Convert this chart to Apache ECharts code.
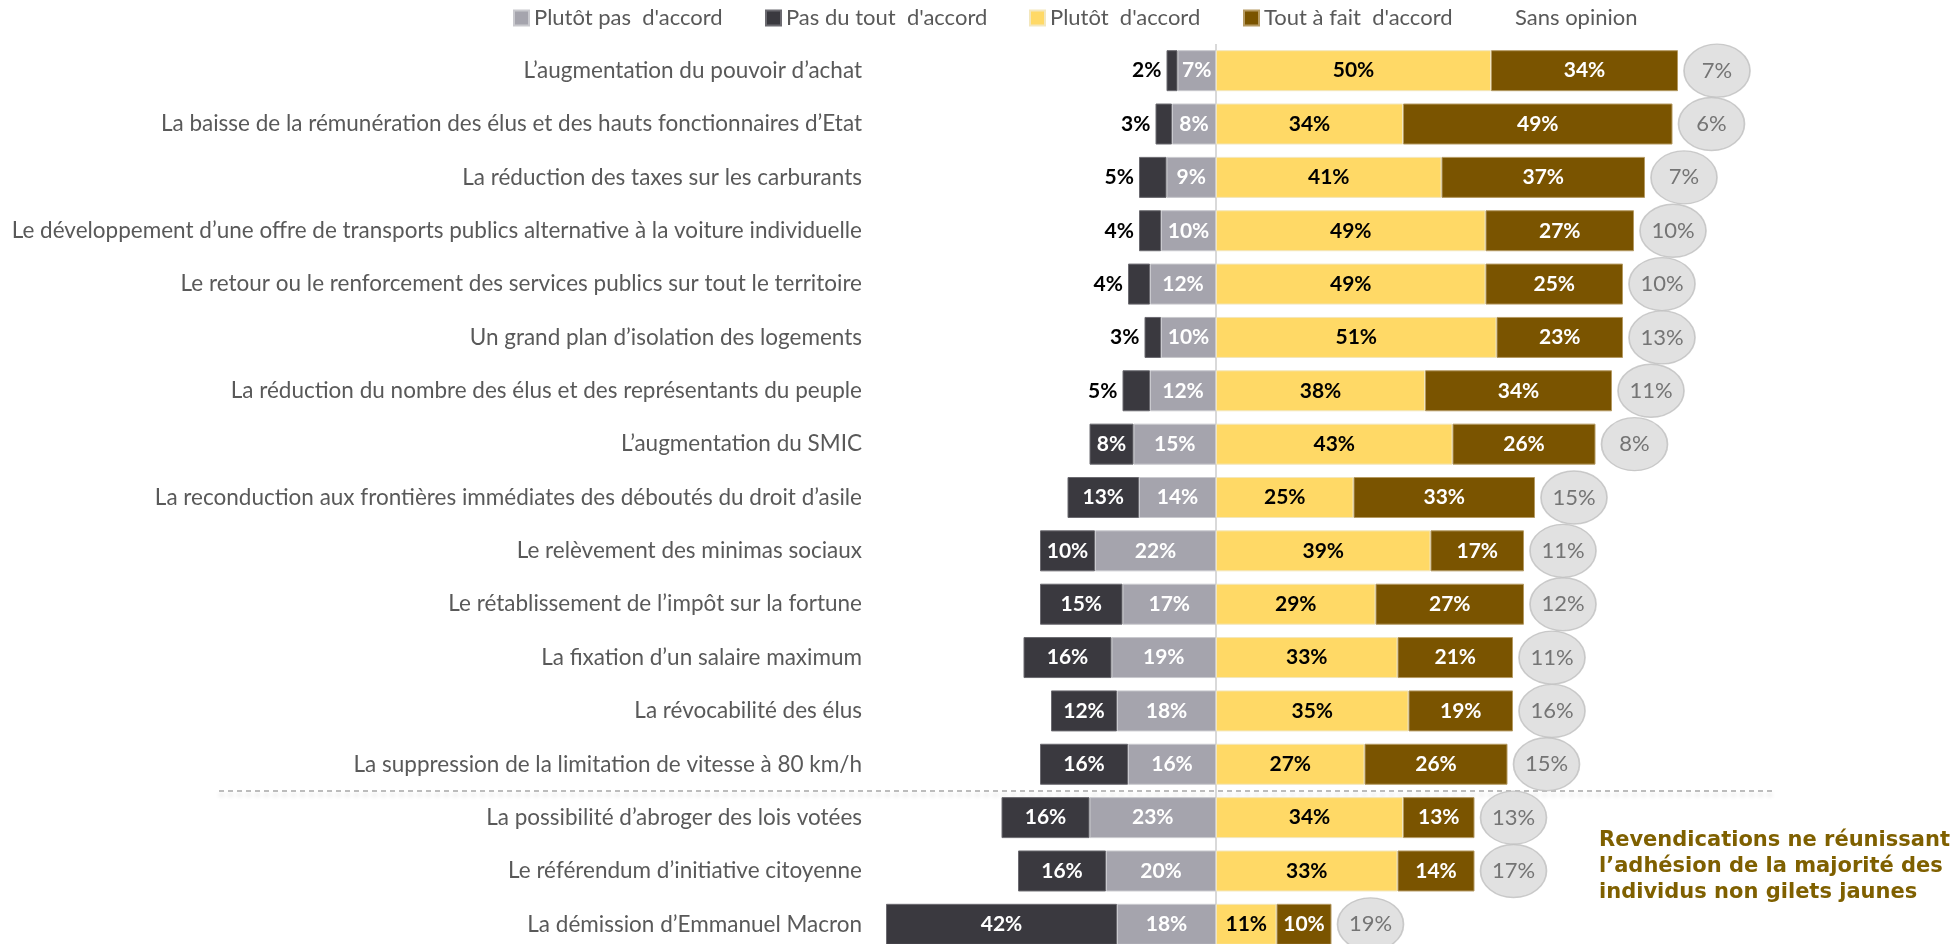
<!DOCTYPE html>
<html>
<head>
<meta charset="utf-8">
<script src="https://cdn.jsdelivr.net/npm/echarts@6/dist/echarts.min.js"></script>
<style>
  html, body { margin: 0; padding: 0; background: #fff; }
  #chart { width: 1960px; height: 944px; }
</style>
</head>
<body>
<div id="chart"></div>
<script>
// données (en %)
var categories = [
  'L’augmentation du pouvoir d’achat',
  'La baisse de la rémunération des élus et des hauts fonctionnaires d’Etat',
  'La réduction des taxes sur les carburants',
  'Le développement d’une offre de transports publics alternative à la voiture individuelle',
  'Le retour ou le renforcement des services publics sur tout le territoire',
  'Un grand plan d’isolation des logements',
  'La réduction du nombre des élus et des représentants du peuple',
  'L’augmentation du SMIC',
  'La reconduction aux frontières immédiates des déboutés du droit d’asile',
  'Le relèvement des minimas sociaux',
  'Le rétablissement de l’impôt sur la fortune',
  'La fixation d’un salaire maximum',
  'La révocabilité des élus',
  'La suppression de la limitation de vitesse à 80 km/h',
  'La possibilité d’abroger des lois votées',
  'Le référendum d’initiative citoyenne',
  'La démission d’Emmanuel Macron'
];
var pasDuTout     = [2, 3, 5, 4, 4, 3, 5, 8, 13, 10, 15, 16, 12, 16, 16, 16, 42];
var plutotPas     = [7, 8, 9, 10, 12, 10, 12, 15, 14, 22, 17, 19, 18, 16, 23, 20, 18];
var plutotDaccord = [50, 34, 41, 49, 49, 51, 38, 43, 25, 39, 29, 33, 35, 27, 34, 33, 11];
var toutAFait     = [34, 49, 37, 27, 25, 23, 34, 26, 33, 17, 27, 21, 19, 26, 13, 14, 10];
var sansOpinion   = [7, 6, 7, 10, 10, 13, 11, 8, 15, 11, 12, 11, 16, 15, 13, 17, 19];

var noms = ['Plutôt pas  d\'accord', 'Pas du tout  d\'accord', 'Plutôt  d\'accord', 'Tout à fait  d\'accord', 'Sans opinion'];
var police = 'Lato';

var chart = echarts.init(document.getElementById('chart'));

function etiquette(couleur) {
  return {
    show: true,
    position: 'inside',
    color: couleur,
    fontWeight: 'bold',
    fontSize: 21,
    fontFamily: police,
    formatter: function (p) { return Math.abs(p.value) + '%'; }
  };
}

function legende(nom, x) {
  return {
    data: [nom],
    left: x,
    top: 7,
    padding: 0,
    icon: 'rect',
    itemWidth: 15,
    itemHeight: 15,
    selectedMode: false,
    textStyle: { fontSize: 22, color: '#595959', fontFamily: police }
  };
}

var legSans = legende({ name: noms[4], itemStyle: { color: 'rgba(0,0,0,0)', borderWidth: 0 } }, 1495);

var option = {
  animation: false,
  legend: [
    legende(noms[0], 513),
    legende(noms[1], 765),
    legende(noms[2], 1029),
    legende(noms[3], 1243),
    legSans
  ],
  grid: { left: 886, width: 825, top: 44, height: 907, containLabel: false, outerBoundsMode: 'none' },
  xAxis: { type: 'value', min: -60, max: 90, show: false },
  yAxis: {
    type: 'category',
    inverse: true,
    data: categories,
    axisLine: { show: false },
    axisTick: { show: false },
    axisLabel: { margin: 24, fontSize: 22.5, color: '#595959', fontFamily: police }
  },
  series: [
    {
      name: noms[0],
      type: 'bar',
      stack: 'total',
      barWidth: 41,
      data: plutotPas.map(function (v) { return -v; }),
      itemStyle: { color: '#a5a4ad', borderColor: '#c9c9ce', borderWidth: 1 },
      label: etiquette('#ffffff'),
      markLine: {
        silent: true,
        z: 1,
        symbol: 'none',
        label: { show: false },
        lineStyle: { color: '#d9d9d9', width: 2, type: 'solid' },
        data: [{ xAxis: 0 }]
      }
    },
    {
      name: noms[1],
      type: 'bar',
      stack: 'total',
      barWidth: 41,
      data: pasDuTout.map(function (v) {
        var item = { value: -v };
        if (v <= 5) item.label = { position: 'left', distance: 5, color: '#000000' };
        return item;
      }),
      itemStyle: { color: '#3a393f', borderColor: '#6b6a70', borderWidth: 1 },
      label: etiquette('#ffffff')
    },
    {
      name: noms[2],
      type: 'bar',
      stack: 'total',
      barWidth: 41,
      data: plutotDaccord,
      itemStyle: { color: '#ffd966', borderColor: '#f3e7bd', borderWidth: 1 },
      label: etiquette('#000000')
    },
    {
      name: noms[3],
      type: 'bar',
      stack: 'total',
      barWidth: 41,
      data: toutAFait,
      itemStyle: { color: '#7a5400', borderColor: '#b59a62', borderWidth: 1 },
      label: etiquette('#ffffff')
    },
    {
      name: noms[4],
      type: 'scatter',
      symbol: 'path://M0,50 A50,50 0 1,1 100,50 A50,50 0 1,1 0,50 Z',
      symbolSize: [66, 53],
      symbolOffset: [39, 0],
      data: sansOpinion.map(function (v, i) {
        return { value: [plutotDaccord[i] + toutAFait[i], i], pct: v };
      }),
      itemStyle: { color: '#d9d9d9', borderColor: '#bfbfbf', borderWidth: 1.5 },
      label: {
        show: true,
        position: 'inside',
        color: '#595959',
        fontSize: 22,
        fontFamily: police,
        formatter: function (p) { return p.data.pct + '%'; }
      }
    }
  ]
};

chart.setOption(option);

// ligne pointillée de séparation et commentaire
var yA = chart.convertToPixel({ yAxisIndex: 0 }, categories[13]);
var yB = chart.convertToPixel({ yAxisIndex: 0 }, categories[14]);
var ySep = (yA + yB) / 2;

chart.setOption({
  graphic: [
    {
      type: 'line',
      shape: { x1: 219, y1: ySep, x2: 1775, y2: ySep },
      style: {
        stroke: '#a6a6a6',
        lineWidth: 1.5,
        lineDash: [5, 4],
        shadowBlur: 4,
        shadowColor: 'rgba(0,0,0,0.2)',
        shadowOffsetY: 4
      },
      silent: true
    },
    {
      type: 'text',
      left: 1599,
      top: 828,
      style: {
        text: 'Revendications ne réunissant\nl’adhésion de la majorité des\nindividus non gilets jaunes',
        fill: '#7f6000',
        font: 'bold 21px "DejaVu Sans"',
        lineHeight: 26
      },
      silent: true
    }
  ]
});
</script>
</body>
</html>
